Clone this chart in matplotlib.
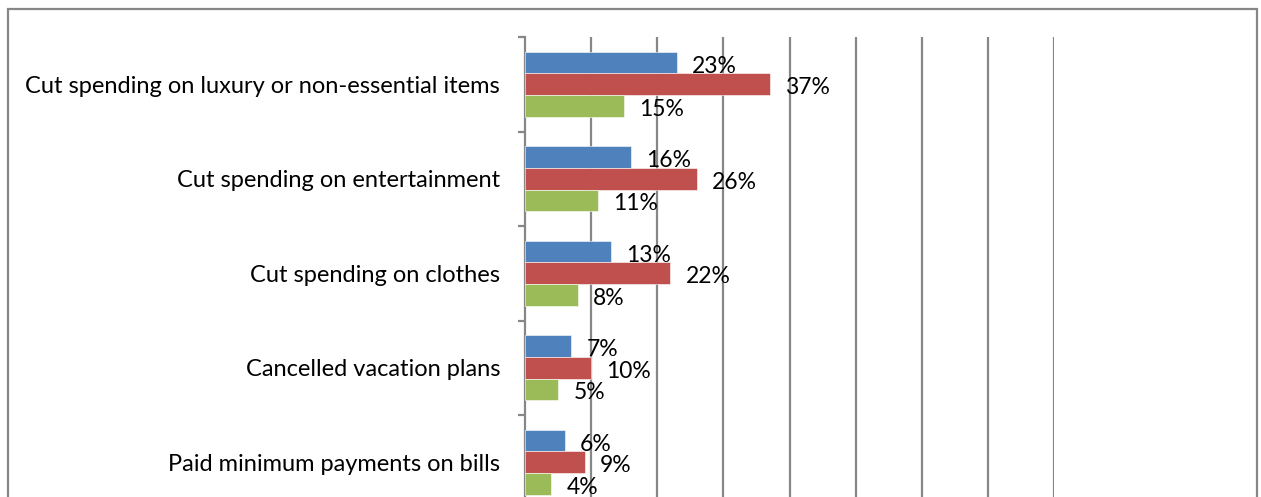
import matplotlib
matplotlib.use("Agg")
import matplotlib.pyplot as plt
from matplotlib.patches import Rectangle
import numpy as np

categories = [
    "Cut spending on luxury or non-essential items",
    "Cut spending on entertainment",
    "Cut spending on clothes",
    "Cancelled vacation plans",
    "Paid minimum payments on bills",
]
blue_vals = [23, 16, 13, 7, 6]
red_vals = [37, 26, 22, 10, 9]
green_vals = [15, 11, 8, 5, 4]

colors = ["#4F81BD", "#C0504D", "#9BBB59"]
grid_col = "#878787"

plt.rcParams["font.family"] = ["Lato", "DejaVu Sans"]

W, H = 1261, 497
fig = plt.figure(figsize=(W / 100, H / 100), dpi=100)

# outer chart border (runs off the bottom edge)
fig.patches.append(Rectangle((8 / W, -0.2), (1257 - 8) / W, 1.2 - 9 / H,
                             transform=fig.transFigure, fill=False,
                             edgecolor=grid_col, linewidth=1.6))

left, right, top = 525, 1054, 37
bottom = top + 5 * 94.5
ax = fig.add_axes([left / W, (H - bottom) / H, (right - left) / W, (bottom - top) / H])

y = np.arange(len(categories))
bh = 0.229
for vals, off, c in zip([blue_vals, red_vals, green_vals], [-bh, 0, bh], colors):
    ax.barh(y + off, vals, height=bh, color=c, edgecolor="white", linewidth=0.4, zorder=3)
    for yi, v in zip(y + off, vals):
        ax.annotate(f"{v}%", (v, yi), xytext=(11, -2.5), textcoords="offset points",
                    ha="left", va="center", fontsize=16.5, color="black", zorder=4)

ax.set_xlim(0, 80)
ax.set_ylim(len(categories) - 0.5, -0.5)
ax.set_xticks(np.arange(10, 81, 10))
ax.grid(axis="x", color=grid_col, linewidth=1.6, zorder=0)
ax.tick_params(axis="x", length=0, labelbottom=False)

ax.set_yticks(np.arange(-0.5, len(categories), 1))
ax.set_yticklabels([])
ax.set_yticks(y, minor=True)
ax.set_yticklabels(categories, minor=True, fontsize=17)
ax.tick_params(axis="y", which="major", length=5, width=1.6, color=grid_col, direction="out")
ax.tick_params(axis="y", which="minor", length=0, pad=18)

for s in ["top", "right", "bottom"]:
    ax.spines[s].set_visible(False)
ax.spines["left"].set_color(grid_col)
ax.spines["left"].set_linewidth(1.6)

fig.savefig("out.png", dpi=100)
